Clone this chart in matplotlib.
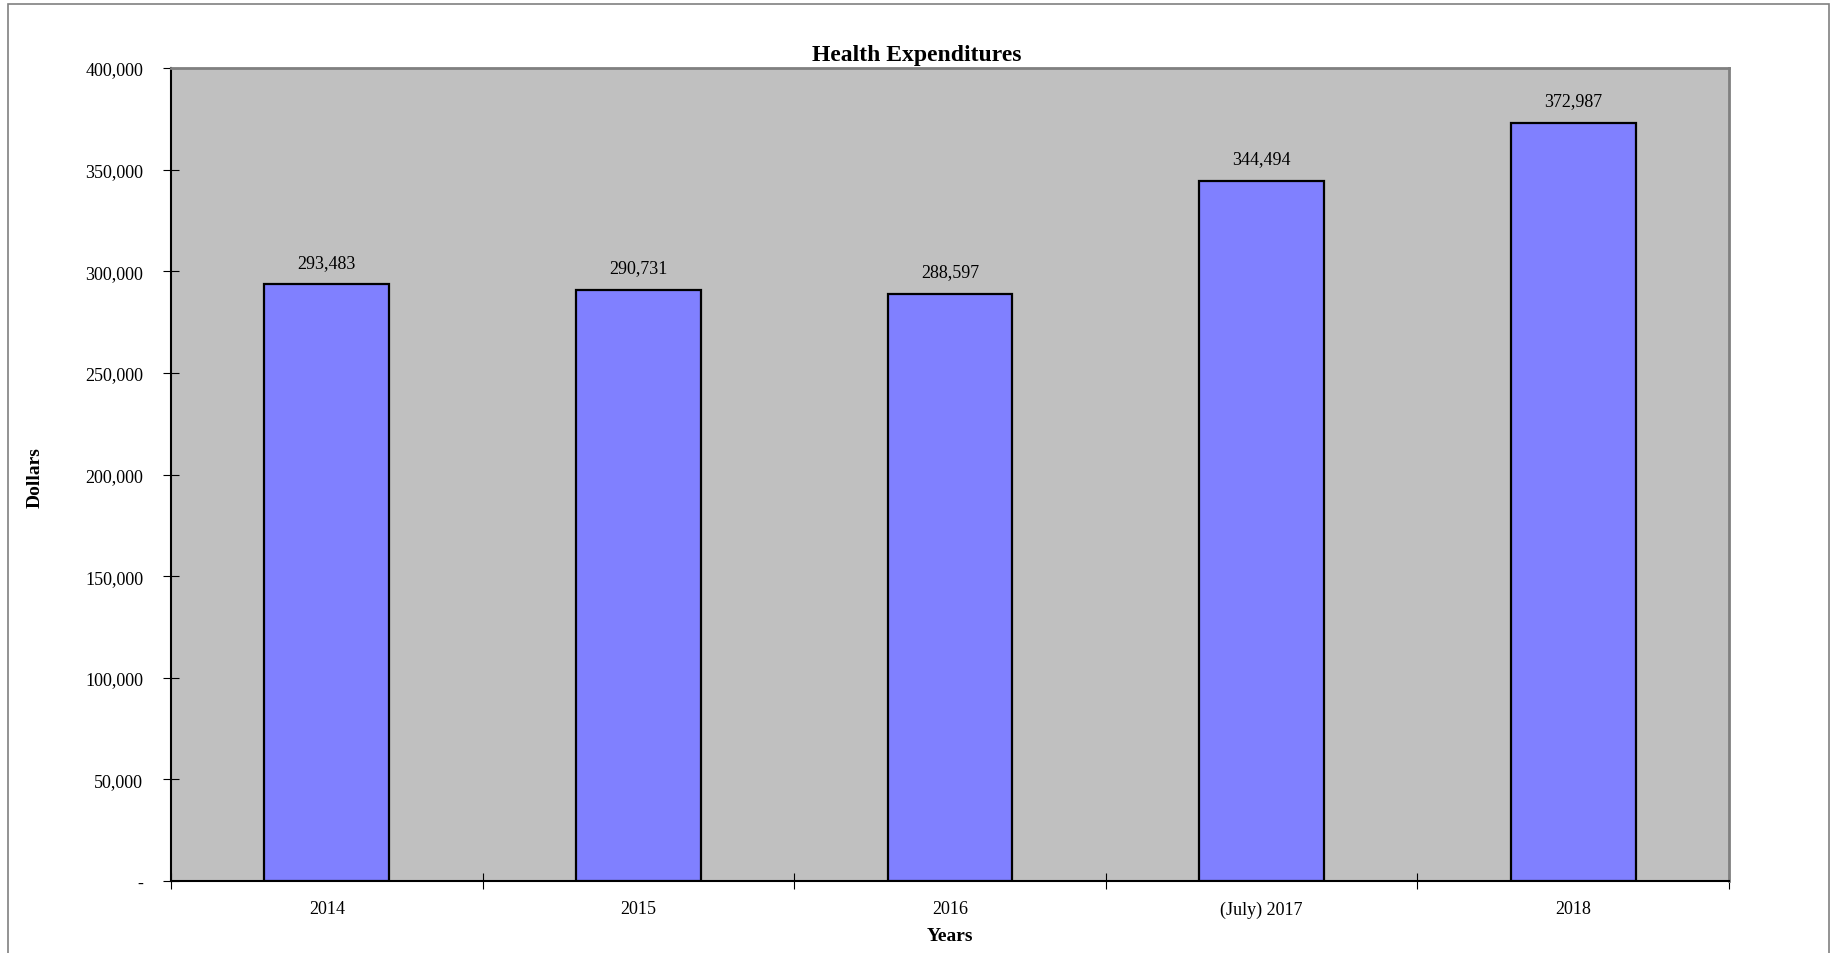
import matplotlib.pyplot as plt
from matplotlib.patches import Rectangle

years = ["2014", "2015", "2016", "(July) 2017", "2018"]
dollars = [293483, 290731, 288597, 344494, 372987]
yticks = [0, 50000, 100000, 150000, 200000, 250000, 300000, 350000, 400000]

plt.rcParams['font.family'] = ['Liberation Serif', 'DejaVu Serif']

W, H = 1833, 954
fig = plt.figure(figsize=(W / 100, H / 100), dpi=100)
ax = fig.add_axes([171 / W, 1 - 882 / H, (1729 - 171) / W, (882 - 69) / H])
ax.set_facecolor('#c0c0c0')

x = list(range(len(years)))
ax.bar(x, dollars, width=0.4, color='#8080ff', edgecolor='black', linewidth=1.6, zorder=3)
for xi, v in zip(x, dollars):
    ax.annotate(f"{v:,}", (xi, v), xytext=(0, 10), textcoords='offset points',
                ha='center', va='bottom', fontsize=13)

ax.set_xlim(-0.5, len(years) - 0.5)
ax.set_ylim(0, 400000)
ax.set_yticks(yticks)
ax.set_yticklabels(["-" if t == 0 else f"{t:,}" for t in yticks], fontsize=13)
ax.set_xticks(x)
ax.set_xticklabels(years, fontsize=13)
ax.tick_params(axis='x', length=0, pad=14)
ax.set_xticks([i - 0.5 for i in range(len(years) + 1)], minor=True)
ax.tick_params(axis='x', which='minor', direction='inout', length=12, width=0.8)
ax.tick_params(axis='y', direction='inout', length=12, width=0.8, pad=14)

for s in ['left', 'bottom']:
    ax.spines[s].set_color('black')
    ax.spines[s].set_linewidth(1.5)
for s in ['top', 'right']:
    ax.spines[s].set_color('#808080')
    ax.spines[s].set_linewidth(2)

fig.text(0.5, 1 - 55 / H, "Health Expenditures", ha='center', va='center',
         fontsize=17, fontweight='bold')
ax.set_xlabel("Years", fontsize=14, fontweight='bold', labelpad=7)
fig.text(35 / W, 1 - 478 / H, "Dollars", rotation=90, ha='center', va='center',
         fontsize=14, fontweight='bold')

fig.patches.append(Rectangle((8 / W, -0.05), (1829 - 8) / W, 1.05 - 5 / H,
                             transform=fig.transFigure, fill=False,
                             edgecolor='#808080', linewidth=1.2))

fig.savefig("out.png", dpi=100)
